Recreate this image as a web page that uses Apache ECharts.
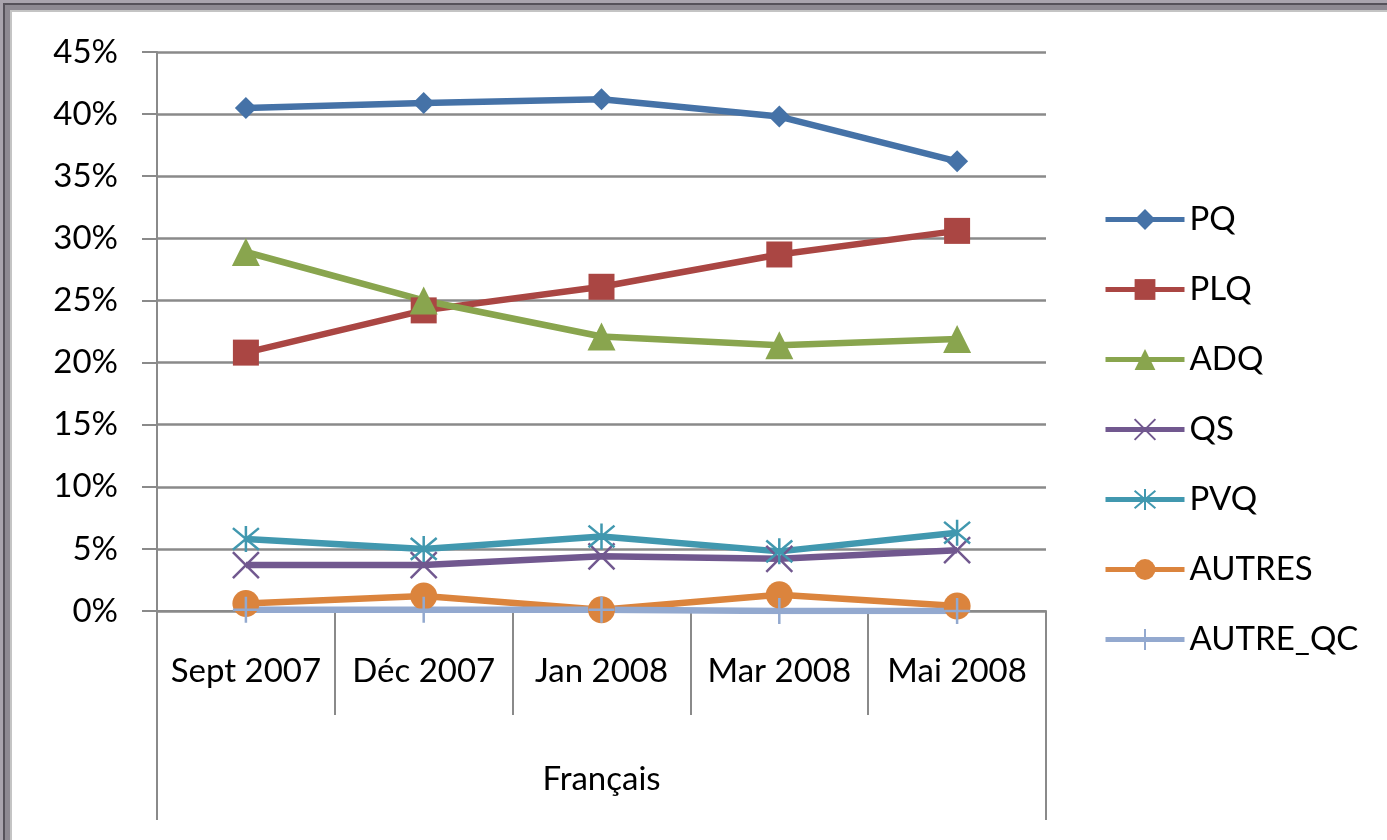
<!DOCTYPE html>
<html>
<head>
<meta charset="utf-8">
<script src="https://cdn.jsdelivr.net/npm/echarts@6/dist/echarts.min.js"></script>
<style>
  html, body { margin: 0; padding: 0; background: #fff; }
  #chart { position: absolute; left: 0; top: 0; width: 1387px; height: 840px; }
  /* cadre gris en haut et à gauche */
  .frame { position: absolute; left: 0; top: 0; width: 1387px; height: 840px; pointer-events: none; box-sizing: border-box; }
  .f1 { border-top: 3px solid #a9a3ad; border-left: 3px solid #a9a3ad; }
  .f2 { left: 3px; top: 3px; border-top: 2px solid #56515a; border-left: 2px solid #56515a; }
  .f3 { left: 5px; top: 5px; border-top: 5px solid #8e8992; border-left: 5px solid #8e8992; }
  .f4 { left: 10px; top: 10px; border-top: 2px solid #c4c4c4; border-left: 2px solid #c4c4c4; }
</style>
</head>
<body>
<div id="chart"></div>
<div class="frame f1"></div>
<div class="frame f2"></div>
<div class="frame f3"></div>
<div class="frame f4"></div>
<script>
  const categories = ['Sept 2007', 'Déc 2007', 'Jan 2008', 'Mar 2008', 'Mai 2008']
  const groupLabel = ['Français']
  const yTicks = [0, 5, 10, 15, 20, 25, 30, 35, 40, 45]

  const pq = [40.5, 40.9, 41.2, 39.8, 36.2]
  const plq = [20.8, 24.2, 26.1, 28.7, 30.6]
  const adq = [28.9, 25.0, 22.1, 21.4, 21.9]
  const qs = [3.7, 3.7, 4.4, 4.2, 4.9]
  const pvq = [5.8, 5.0, 6.0, 4.8, 6.3]
  const autres = [0.6, 1.2, 0.1, 1.3, 0.4]
  const autreQc = [0.1, 0.1, 0.1, 0.0, 0.0]

  const font = 'Lato, "Open Sans", sans-serif'
  const fontSize = 33
  const gridColor = '#8a8a8a'

  const crossPath = 'path://M0,0L10,10M10,0L0,10'
  const starPath = 'path://M0,0L10,10M10,0L0,10M5,-1L5,11'
  const plusPath = 'path://M5,0L5,10M0,5L10,5'

  function mkSeries(name, data, color, symbol, size, stroke) {
    const s = {
      name: name,
      type: 'line',
      data: data,
      symbol: symbol,
      symbolSize: size,
      showAllSymbol: true,
      lineStyle: { width: 6.5, color: color },
      itemStyle: { color: color, opacity: 1 },
      emphasis: { disabled: true },
      animation: false
    }
    if (stroke) {
      s.itemStyle.borderColor = color
      s.itemStyle.borderWidth = 2.5
      s.itemStyle.color = 'rgba(0,0,0,0)'
    }
    return s
  }

  const chart = echarts.init(document.getElementById('chart'))
  chart.setOption({
    backgroundColor: '#ffffff',
    animation: false,
    grid: { left: 157, right: 341, top: 52, bottom: 229, containLabel: false },
    legend: {
      orient: 'vertical',
      left: 1103,
      top: 203,
      itemWidth: 79,
      itemHeight: 26,
      itemGap: 37,
      padding: 0,
      lineStyle: { width: 5 },
      textStyle: { fontFamily: font, fontSize: fontSize, color: '#000', padding: [0, 0, 0, 0] },
      data: ['PQ', 'PLQ', 'ADQ', 'QS', 'PVQ', 'AUTRES', 'AUTRE_QC']
    },
    xAxis: [
      {
        type: 'category',
        data: categories,
        boundaryGap: true,
        axisLine: { show: true, lineStyle: { color: gridColor, width: 2 } },
        axisTick: { show: true, interval: 0, length: 104, lineStyle: { color: gridColor, width: 2 } },
        axisLabel: { interval: 0, margin: 44, fontFamily: font, fontSize: fontSize, color: '#000' },
        splitLine: { show: false }
      },
      {
        type: 'category',
        data: groupLabel,
        position: 'bottom',
        boundaryGap: true,
        axisLine: { show: false },
        axisTick: { show: true, interval: 0, length: 209, lineStyle: { color: gridColor, width: 2 } },
        axisLabel: { margin: 152, fontFamily: font, fontSize: fontSize, color: '#000' },
        splitLine: { show: false }
      }
    ],
    yAxis: {
      type: 'value',
      min: yTicks[0],
      max: yTicks[yTicks.length - 1],
      interval: 5,
      axisLine: { show: true, lineStyle: { color: gridColor, width: 2 } },
      axisTick: { show: true, length: 15, lineStyle: { color: gridColor, width: 2 } },
      axisLabel: { margin: 39, fontFamily: font, fontSize: fontSize, color: '#000', formatter: '{value}%' },
      splitLine: { show: true, lineStyle: { color: gridColor, width: 2.5 } }
    },
    series: [
      mkSeries('PQ', pq, '#4572a7', 'diamond', 22),
      mkSeries('PLQ', plq, '#aa4643', 'rect', 26),
      mkSeries('ADQ', adq, '#89a54e', 'triangle', 28),
      mkSeries('QS', qs, '#71588f', crossPath, 26, true),
      mkSeries('PVQ', pvq, '#4198af', starPath, 26, true),
      mkSeries('AUTRES', autres, '#db843d', 'circle', 27),
      mkSeries('AUTRE_QC', autreQc, '#93a9cf', plusPath, 26, true)
    ]
  })
</script>
</body>
</html>
